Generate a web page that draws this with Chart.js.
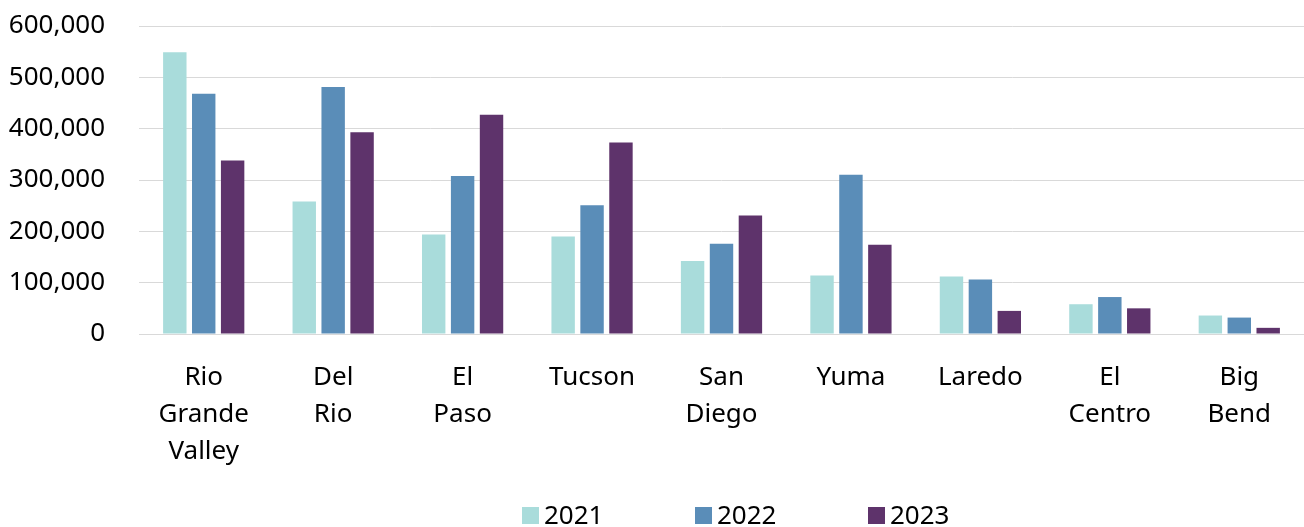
<!DOCTYPE html>
<html lang="en"><head>
<meta charset="utf-8">
<title>Apprehensions by sector</title>
<script src="https://cdn.jsdelivr.net/npm/chart.js@4"></script>
<style>
*{box-sizing:border-box;margin:0;padding:0}
body{background:#fff;font-family:"Noto Sans",sans-serif}
.wrap{position:relative;width:1304px;height:527px}
canvas{position:absolute;left:0;top:0}
.legend{position:absolute;left:522px;top:496px;display:flex;font-size:26px;color:#000}
.legend span{display:flex;align-items:center;width:173px}
.legend i{display:inline-block;width:17px;height:17px;margin-right:5px;margin-top:3px}
</style></head><body>
<div class="wrap">
  <canvas id="c" width="1304" height="527"></canvas>
  <div class="legend" id="legend"></div>
</div>
<script>
const sectors=[['Rio','Grande','Valley'],['Del','Rio'],['El','Paso'],'Tucson',['San','Diego'],'Yuma','Laredo',['El','Centro'],['Big','Bend']];
const years=['2021','2022','2023'];
const v2021=[549000,258000,194000,190000,142000,114000,112000,58000,36000];
const v2022=[468000,481000,308000,251000,176000,310000,106000,72000,32000];
const v2023=[338000,393000,427000,373000,231000,174000,45000,50000,12000];
const yTicks=[0,100000,200000,300000,400000,500000,600000];
const colors=['#A9DCDB','#5A8DB8','#5E336B'];

const font={family:'"Noto Sans", sans-serif',size:26};
new Chart(document.getElementById('c'),{type:'bar',
  data:{labels:sectors,datasets:[v2021,v2022,v2023].map((d,i)=>({label:years[i],data:d,backgroundColor:colors[i],
    barPercentage:0.81,categoryPercentage:0.67}))},
  options:{responsive:false,animation:false,
    layout:{padding:{top:26,left:0,right:0,bottom:0}},
    plugins:{legend:{display:false},tooltip:{enabled:false}},
    scales:{
      x:{grid:{display:false},border:{color:'#d9d9d9'},
        afterFit:s=>{s.height=193;s.paddingLeft=0;s.paddingRight=0},
        ticks:{color:'#000',font:{...font,lineHeight:1.42},padding:17,maxRotation:0,autoSkip:false}},
      y:{min:0,max:600000,afterFit:s=>{s.width=139;s.paddingTop=0;s.paddingBottom=0},
        afterBuildTicks:s=>{s.ticks=yTicks.map(v=>({value:v}))},
        grid:{color:'#d9d9d9',drawTicks:false},border:{display:false},
        ticks:{color:'#000',font,padding:34,callback:v=>v.toLocaleString('en-US')}}
    }}});
document.getElementById('legend').innerHTML=years.map((y,i)=>'<span><i style="background:'+colors[i]+'"></i>'+y+'</span>').join('');
</script></body></html>
